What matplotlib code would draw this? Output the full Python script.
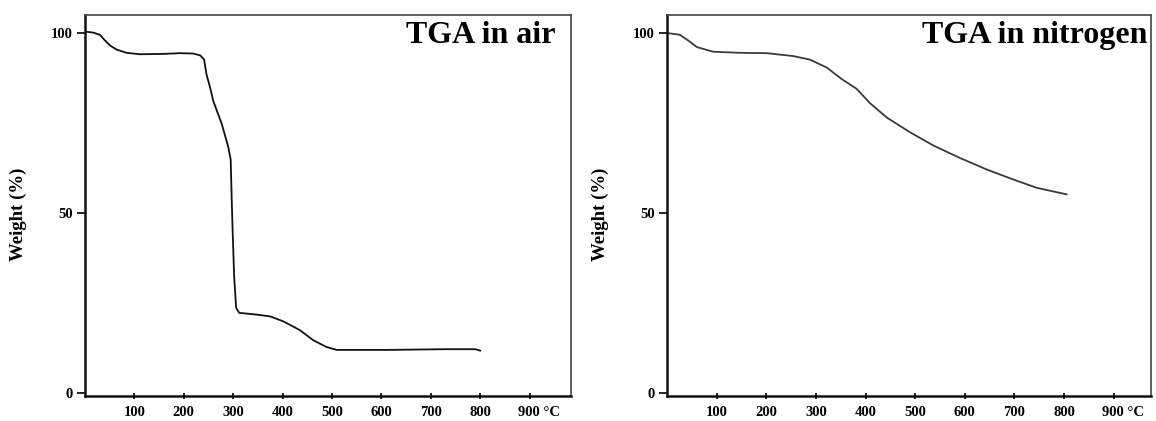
"""TGA curves (air vs nitrogen) -- two side-by-side panels, scanned-figure look."""
import matplotlib
matplotlib.use("Agg")
import matplotlib.pyplot as plt
import matplotlib.transforms as mtransforms

plt.rcParams["font.family"] = ["Liberation Serif", "DejaVu Serif"]
plt.rcParams["font.weight"] = "bold"

# weight loss in air
AIR_T = [0, 17, 30, 40, 51, 64, 84, 111, 159, 192, 219, 233, 241, 246, 253, 260, 277,
         290, 295, 297, 299, 302, 306, 312, 348, 375, 402, 435, 462, 489, 510, 611, 732, 790, 800]
AIR_W = [100.4, 100.1, 99.5, 98.0, 96.5, 95.4, 94.5, 94.1, 94.2, 94.4, 94.3, 93.8, 92.7, 88.5,
         85.0, 81.0, 74.7, 68.4, 64.8, 54.0, 44.7, 32.3, 23.7, 22.3, 21.8, 21.3, 19.9,
         17.5, 14.7, 12.8, 12.0, 12.0, 12.2, 12.2, 11.8]

# weight loss in nitrogen
N2_T = [0, 26, 43, 60, 93, 147, 201, 254, 288, 322, 352, 382, 409, 443, 490, 536, 590,
        644, 698, 745, 805]
N2_W = [100.0, 99.5, 97.9, 96.1, 94.8, 94.5, 94.4, 93.6, 92.6, 90.4, 87.2, 84.5, 80.5, 76.5,
        72.4, 68.8, 65.3, 62.1, 59.3, 57.0, 55.2]

X_TICKS = [100, 200, 300, 400, 500, 600, 700, 800, 900]
X_LABELS = ["100", "200", "300", "400", "500", "600", "700", "800", "900 °C"]
Y_TICKS = [0, 50, 100]
Y_LABELS = ["0", "50", "100"]

W, H = 1156, 421
fig = plt.figure(figsize=(W / 100, H / 100), dpi=100)

panels = [
    # (left px, right px, xmax, T, W, colour, title, title right pad px, ylabel x px)
    (85, 571, 984, AIR_T, AIR_W, "#111111", "TGA in air", 16, 18),
    (667, 1151, 975, N2_T, N2_W, "#3a3a3a", "TGA in nitrogen", 4, 600),
]
top, bot = 15, 396

for left, right, xmax, T, Wt, col, title, tpad, ylx in panels:
    ax = fig.add_axes([left / W, 1 - bot / H, (right - left) / W, (bot - top) / H])
    ax.plot(T, Wt, color=col, lw=1.3, solid_joinstyle="round")
    ax.set_xlim(0, xmax)
    ax.set_ylim(-0.8, 105)
    ax.set_xticks(X_TICKS)
    ax.set_xticklabels(X_LABELS)
    ax.set_yticks(Y_TICKS)
    ax.set_yticklabels(Y_LABELS)
    ax.tick_params(axis="x", direction="inout", length=5, width=1.2, labelsize=10.5, pad=5)
    ax.tick_params(axis="y", direction="out", length=6, width=1.2, labelsize=10.5, pad=3)
    last = ax.get_xticklabels()[-1]
    last.set_ha("left")
    last.set_transform(last.get_transform() + mtransforms.ScaledTranslation(-12 / 100, 0, fig.dpi_scale_trans))
    for side, sp in ax.spines.items():
        sp.set_linewidth(1.8 if side in ("left", "bottom") else 1.2)
        sp.set_color("#111111" if side in ("left", "bottom") else "#444444")
    ax.text(1 - tpad / (right - left), 0.985, title, transform=ax.transAxes, ha="right", va="top",
            fontsize=23, fontweight="bold")
    fig.text(ylx / W, 1 - 214 / H, "Weight (%)", rotation=90, ha="center", va="center",
             fontsize=13.5, fontweight="bold")

fig.savefig("out.png", dpi=100)
